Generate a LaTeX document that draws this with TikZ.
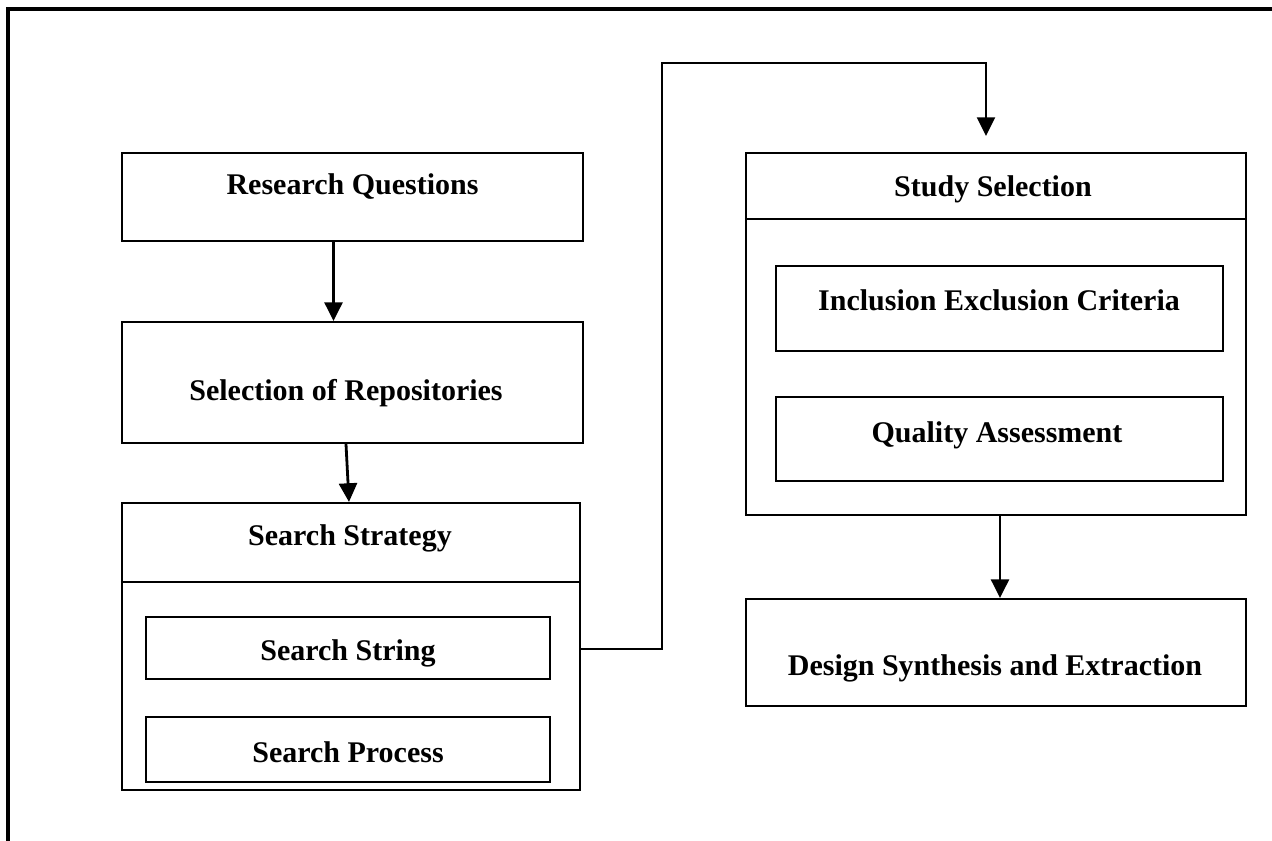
\documentclass[tikz,border=0pt]{standalone}
\usepackage{fontspec}
\setmainfont{Liberation Serif}
\usetikzlibrary{arrows.meta,calc,fit}
\begin{document}
\begin{tikzpicture}[x=0.75pt,y=-0.75pt,
  box/.style={draw=black,line width=1.6pt,inner sep=0pt,fill=none},
  lbl/.style={anchor=base,inner sep=0pt,font=\fontsize{22.5}{27}\selectfont\bfseries},
  arr/.style={line width=2.1pt,-{Triangle[length=14pt,width=13.5pt]}},
  link/.style={line width=1.6pt,-{Triangle[length=14pt,width=13.5pt]}}]
\useasboundingbox (0,0) rectangle (1272,840);
% outer frame, open to the right and bottom
\draw[line width=3pt] (8,850) -- (8,9) -- (1285,9);

% left column
\node[box,fit={(122,153) (583,241)}] (rq) {};
\node[lbl] (rqt) at (352.5,194) {Research Questions};
\node[box,fit={(122,322) (583,443)}] (rep) {};
\node[lbl] (rept) at (346,400) {Selection of Repositories};
\node[box,fit={(122,503) (580,790)}] (strat) {};
\draw[line width=1.6pt] (strat.west |- 0,582) -- (strat.east |- 0,582);
\node[lbl] (stratt) at (350,545) {Search Strategy};
\node[box,fit={(146,617) (550,679)}] (str) {};
\node[lbl] (strt) at (348,660) {Search String};
\node[box,fit={(146,717) (550,782)}] (proc) {};
\node[lbl] (proct) at (348,762) {Search Process};

% right column
\node[box,fit={(746,153) (1246,515)}] (study) {};
\draw[line width=1.6pt] (study.west |- 0,219) -- (study.east |- 0,219);
\node[lbl] (studyt) at (993,196) {Study Selection};
\node[box,fit={(776,266) (1223,351)}] (incl) {};
\node[lbl] (inclt) at (999,310) {Inclusion Exclusion Criteria};
\node[box,fit={(776,397) (1223,481)}] (qual) {};
\node[lbl] (qualt) at (997,442) {Quality Assessment};
\node[box,fit={(746,599) (1246,706)}] (design) {};
\node[lbl] (designt) at (995,675) {Design Synthesis and Extraction};

% connectors
\draw[arr] ($(rq.south)+(-19,0)$) -- ($(rep.north)+(-19,0)$);
\draw[arr] ($(rep.south)+(-6.5,0)$) -- ($(strat.north)+(-2,0)$);
\draw[arr] ($(study.south)+(4,0)$) -- ($(design.north)+(4,0)$);
\coordinate (route) at (662,63);
\coordinate (gap) at ($(study.north)+(-10,-16)$);
\draw[link] ($(strat.east)+(0,2.5)$) -| (route) -| (gap);
\end{tikzpicture}
\end{document}
